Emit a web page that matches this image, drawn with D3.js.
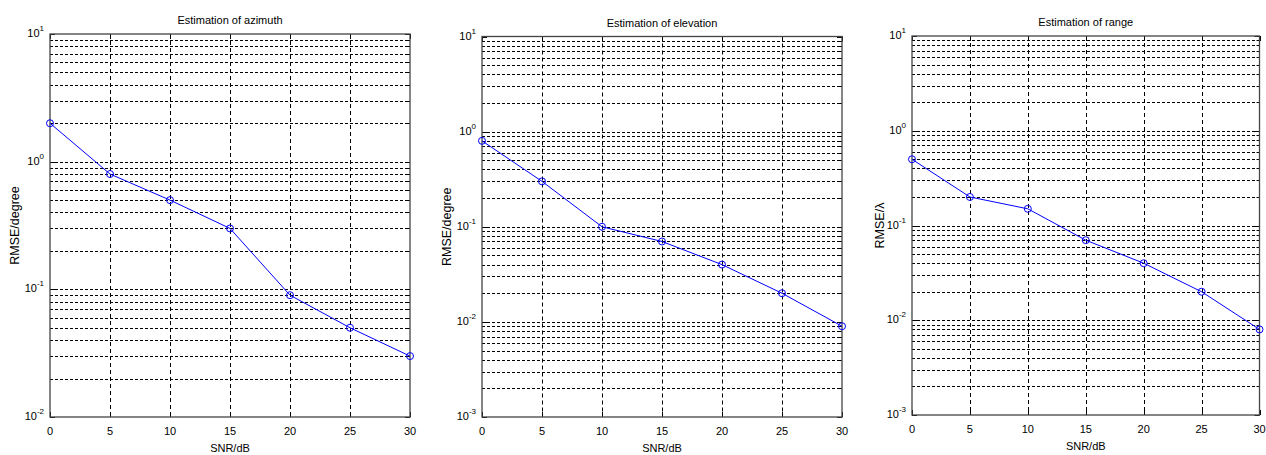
<!DOCTYPE html>
<html>
<head>
<meta charset="utf-8">
<script src="https://cdn.jsdelivr.net/npm/d3@7"></script>
<style>
  html, body { margin: 0; padding: 0; background: #fff; }
  svg { display: block; font-family: "Liberation Sans", Arial, sans-serif; }
  .lbl { font-size: 11px; fill: #000; }
  .ylab { font-size: 12.5px; fill: #000; }
</style>
</head>
<body>
<svg id="chart" width="1266" height="455"></svg>
<script>
const snr = [0, 5, 10, 15, 20, 25, 30];
const azimuth = [2, 0.8, 0.5, 0.3, 0.09, 0.05, 0.03];
const elevation = [0.8, 0.3, 0.1, 0.07, 0.04, 0.02, 0.009];
const rangeErr = [0.5, 0.2, 0.15, 0.07, 0.04, 0.02, 0.008];

const titles = ["Estimation of azimuth", "Estimation of elevation", "Estimation of range"];
const yLabels = ["RMSE/degree", "RMSE/degree", "RMSE/\u03bb"];
const yDomains = [[1e-2, 1e1], [1e-3, 1e1], [1e-3, 1e1]];
const xTicks = [0, 5, 10, 15, 20, 25, 30];
const series = [azimuth, elevation, rangeErr];

// plot boxes in pixels
const boxes = [
  {left: 50, right: 410, top: 34, bottom: 417, ylab: 15},
  {left: 482, right: 842, top: 36.5, bottom: 417, ylab: 447},
  {left: 912, right: 1259.5, top: 36, bottom: 415, ylab: 880}
];

const svg = d3.select("#chart");

boxes.forEach((b, i) => {
  const x = d3.scaleLinear().domain([0, 30]).range([b.left, b.right]);
  const y = d3.scaleLog().domain(yDomains[i]).range([b.bottom, b.top]);
  const g = svg.append("g");

  const allTicks = y.ticks();
  const majors = allTicks.filter(t => Math.abs(Math.log10(t) - Math.round(Math.log10(t))) < 1e-9);

  // horizontal grid (every log tick)
  g.selectAll("line.hg").data(allTicks.filter(t => t > yDomains[i][0] && t < yDomains[i][1]))
    .join("line")
      .attr("x1", b.left).attr("x2", b.right)
      .attr("y1", d => Math.round(y(d)) + 0.5).attr("y2", d => Math.round(y(d)) + 0.5)
      .attr("stroke", "#000").attr("stroke-width", 1)
      .attr("stroke-dasharray", "3,2");

  // vertical grid
  g.selectAll("line.vg").data(xTicks.slice(1, -1))
    .join("line")
      .attr("x1", d => Math.round(x(d)) + 0.5).attr("x2", d => Math.round(x(d)) + 0.5)
      .attr("y1", b.top).attr("y2", b.bottom)
      .attr("stroke", "#000").attr("stroke-width", 1)
      .attr("stroke-dasharray", "4,3");

  // inward tick marks on left/right
  allTicks.forEach(t => {
    const len = majors.includes(t) ? 5 : 3;
    const yy = Math.round(y(t)) + 0.5;
    g.append("line").attr("x1", b.left).attr("x2", b.left + len).attr("y1", yy).attr("y2", yy).attr("stroke", "#000");
    g.append("line").attr("x1", b.right).attr("x2", b.right - len).attr("y1", yy).attr("y2", yy).attr("stroke", "#000");
  });
  xTicks.forEach(t => {
    const xx = Math.round(x(t)) + 0.5;
    g.append("line").attr("x1", xx).attr("x2", xx).attr("y1", b.bottom).attr("y2", b.bottom - 5).attr("stroke", "#000");
    g.append("line").attr("x1", xx).attr("x2", xx).attr("y1", b.top).attr("y2", b.top + 5).attr("stroke", "#000");
  });

  // box
  g.append("rect")
    .attr("x", b.left).attr("y", b.top)
    .attr("width", b.right - b.left).attr("height", b.bottom - b.top)
    .attr("fill", "none").attr("stroke", "#444").attr("stroke-width", 1.3);

  // x tick labels
  g.selectAll("text.xt").data(xTicks).join("text")
    .attr("class", "lbl")
    .attr("x", d => x(d)).attr("y", b.bottom + 18)
    .attr("text-anchor", "middle")
    .text(d => d);

  // y tick labels 10^n
  majors.forEach(t => {
    const e = Math.round(Math.log10(t));
    const txt = g.append("text").attr("class", "lbl")
      .attr("x", b.left - 6).attr("y", y(t) + 3)
      .attr("text-anchor", "end");
    txt.append("tspan").text("10");
    txt.append("tspan").attr("dy", -6).attr("font-size", "8px").text(e);
  });

  // labels
  g.append("text").attr("class", "lbl")
    .attr("x", (b.left + b.right) / 2).attr("y", b.top - 10)
    .attr("text-anchor", "middle").text(titles[i]);
  g.append("text").attr("class", "lbl")
    .attr("x", (b.left + b.right) / 2).attr("y", b.bottom + 35)
    .attr("text-anchor", "middle").text("SNR/dB");
  g.append("text").attr("class", "ylab")
    .attr("transform", `translate(${b.ylab + 4},${(b.top + b.bottom) / 2}) rotate(-90)`)
    .attr("text-anchor", "middle").text(yLabels[i]);

  // data
  const pts = snr.map((s, k) => ({s, v: series[i][k]}));
  const line = d3.line().x(d => x(d.s)).y(d => y(d.v));
  g.append("path").datum(pts)
    .attr("fill", "none").attr("stroke", "#0000ff").attr("stroke-width", 1)
    .attr("d", line);
  g.selectAll("circle").data(pts).join("circle")
    .attr("cx", d => x(d.s)).attr("cy", d => y(d.v))
    .attr("r", 3.5)
    .attr("fill", "none").attr("stroke", "#0000ff").attr("stroke-width", 1);
});
</script>
</body>
</html>
